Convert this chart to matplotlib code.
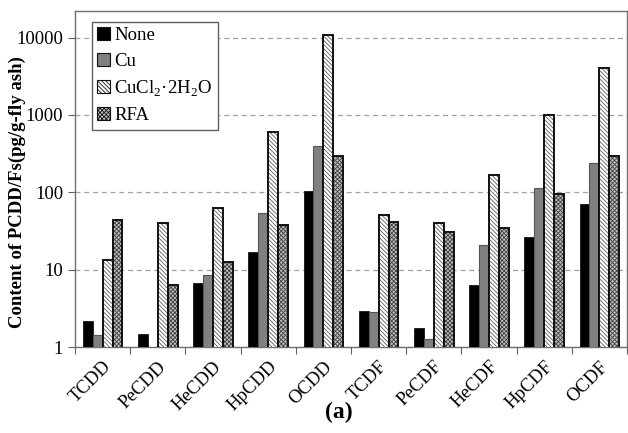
import numpy as np
import matplotlib.pyplot as plt
from matplotlib.ticker import FixedLocator, NullFormatter, NullLocator

plt.rcParams['font.family'] = ['Liberation Serif', 'DejaVu Serif']
plt.rcParams['mathtext.fontset'] = 'custom'
plt.rcParams['mathtext.rm'] = 'Liberation Serif'
plt.rcParams['hatch.linewidth'] = 0.6

categories = ['TCDD', 'PeCDD', 'HeCDD', 'HpCDD', 'OCDD',
              'TCDF', 'PeCDF', 'HeCDF', 'HpCDF', 'OCDF']
series = ['None', 'Cu', r'CuCl$_\mathrm{2}$·2H$_\mathrm{2}$O', 'RFA']
none_vals = [2.17, 1.46, 6.7, 17.1, 104, 2.9, 1.75, 6.3, 26.8, 70.8]
cu_vals = [1.45, 0.5, 8.4, 53.7, 395, 2.8, 1.28, 20.9, 115, 236]
cucl2_vals = [13.5, 40.2, 62.8, 604, 10870, 50.6, 40.2, 166, 985, 3990]
rfa_vals = [43.2, 6.4, 12.5, 38.3, 296, 41, 31.1, 34.3, 94.5, 296]

fig = plt.figure(figsize=(6.28, 4.33), dpi=100)
ax = fig.add_axes([75 / 628, (433 - 347) / 433, 552 / 628, 336 / 433])

x = np.arange(len(categories))
w = 0.18
# (face, hatch colour, hatch, outline colour, outline width)
styles = [
    ('black', None, None, 'black', 0.5),
    ('#808080', None, None, '#555555', 0.8),
    ('white', '#606060', '\\' * 8, '#111111', 1.4),
    ('#c0c0c0', '#404040', 'x' * 8, '#111111', 1.4),
]
data = [none_vals, cu_vals, cucl2_vals, rfa_vals]
for i, (vals, name, st) in enumerate(zip(data, series, styles)):
    face, hcol, hatch, ecol, lw = st
    pos = x + (i - 1.5) * w
    if hatch:
        ax.bar(pos, vals, w, facecolor=face, edgecolor=hcol, hatch=hatch,
               linewidth=0, zorder=3)
        ax.bar(pos, vals, w, fill=False, edgecolor=ecol, linewidth=lw, zorder=4)
        # proxy for the legend
        ax.bar([0], [0], 0, facecolor=face, edgecolor=hcol, hatch=hatch,
               linewidth=0, label=name)
    else:
        ax.bar(pos, vals, w, facecolor=face, edgecolor=ecol, linewidth=lw,
               zorder=3, label=name)

ax.set_yscale('log')
ax.set_ylim(1, 10 ** 4.343)
ax.set_xlim(-0.5, len(categories) - 0.5)
ax.yaxis.set_major_locator(FixedLocator([1, 10, 100, 1000, 10000]))
ax.yaxis.set_minor_locator(NullLocator())
ax.set_yticklabels(['1', '10', '100', '1000', '10000'])
ax.yaxis.grid(True, color='#a0a0a0', linestyle=(0, (4, 3)), linewidth=0.9, zorder=0)

ax.set_xticks(np.arange(len(categories) + 1) - 0.5)
ax.xaxis.set_major_formatter(NullFormatter())
ax.set_xticks(x, minor=True)
ax.set_xticklabels(categories, minor=True, rotation=45, ha='right',
                   rotation_mode='anchor', fontsize=13.5)
ax.tick_params(axis='x', which='minor', length=0, pad=8)
ax.tick_params(axis='x', which='major', length=5, color='#606060')
ax.tick_params(axis='y', labelsize=13.5, length=5, color='#606060')

for s in ax.spines.values():
    s.set_color('#707070')
    s.set_linewidth(1.0)

ax.set_ylabel('Content of PCDD/Fs(pg/g-fly ash)', fontsize=13.5,
              fontweight='bold', va='center')
ax.yaxis.set_label_coords(-58 / 552, 0.46)

handles, labels = ax.get_legend_handles_labels()
leg = ax.legend(handles, labels, loc='upper left', bbox_to_anchor=(0.02, 0.985),
                fancybox=False, framealpha=1, edgecolor='#606060', fontsize=13.5,
                handlelength=0.7, handleheight=0.7, handletextpad=0.2,
                borderaxespad=0.3, labelspacing=0.45, borderpad=0.3)
leg.get_frame().set_linewidth(1.0)
for p in leg.get_patches():
    p.set_edgecolor('#111111')
    p.set_linewidth(0.8)

fig.text(0.54, 0.035, '(a)', fontsize=17, fontweight='bold', ha='center')

fig.savefig('out.png', dpi=100)
